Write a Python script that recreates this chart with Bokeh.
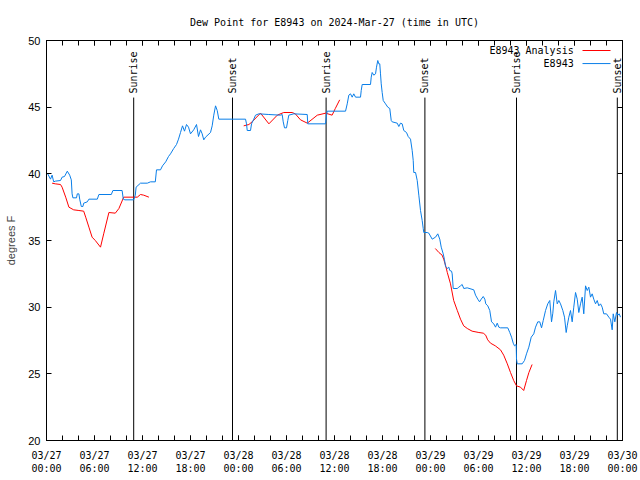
import math
from bokeh.plotting import figure
from bokeh.models import Range1d, FixedTicker, LinearAxis, Label, ColumnDataSource
from bokeh.core.properties import value
from bokeh.embed import file_html
from bokeh.resources import INLINE

NAN = float("nan")

# ---- data (hours since 2024-03-27 00:00 UTC, dew point in degrees F) ----
obs_hours = [
    0.15, 0.5, 0.7, 0.9, 1.1, 1.75, 1.95, 2.25, 2.6, 2.9,
    3.1, 3.2, 3.3, 3.75, 3.85, 4.05, 4.15, 4.35, 4.55, 4.65,
    5.1, 5.3, 6.35, 6.55, 8.1, 8.3, 9.45, 9.6, 9.8, 10.9,
    11.1, 11.2, 11.75, 12.6, 13.0, 13.6, 13.75, 14.25,
    14.5, 14.9, 15.25, 15.5, 15.9, 16.25, 16.5, 16.75, 17.0, 17.25,
    17.5, 17.75, 18.0, 18.4, 18.75, 19.0,
    19.25, 19.46, 19.66, 19.88, 20.5, 20.71, 20.91, 21.13, 21.34, 21.54,
    24.88, 25.0, 25.09, 25.5, 25.63, 25.91, 26.13, 26.54, 27.79, 29.25,
    29.46, 29.59, 29.75, 30.0, 30.16, 30.29, 30.91, 32.59, 32.66, 34.88,
    35.0, 35.09, 37.38, 37.59, 37.79, 38.0, 38.21, 38.41, 38.63, 39.25,
    39.34, 39.46, 40.5, 40.59, 40.71, 40.91, 41.13, 41.25, 41.41, 41.54,
    41.66, 41.75, 41.84, 41.96, 42.09, 42.38, 42.66, 42.91, 43.09, 43.21,
    43.84, 44.04, 44.25, 44.46, 44.66, 45.0, 45.21, 45.5, 45.71, 45.84,
    45.91, 46.13, 46.34, 46.54, 46.75, 46.96, 47.09, 47.16, 47.59, 47.79,
    48.21, 48.63, 48.91, 49.16, 49.34, 49.59, 49.75, 49.88, 50.09, 50.29,
    50.41, 50.63, 50.71, 50.84, 51.34, 51.54, 51.75, 51.96, 52.16, 52.59,
    53.41, 53.63, 53.91, 54.13, 54.34, 54.59, 54.79, 54.91, 55.16, 55.41,
    55.63, 55.91, 56.13, 56.34, 56.54, 56.75, 57.66, 57.91, 58.13, 58.34,
    58.5, 58.71, 58.75, 58.84, 59.46, 59.75, 60.0, 60.29, 60.59, 60.91,
    61.13, 61.41, 61.66, 61.88, 62.09, 62.38, 62.66, 62.91, 63.13, 63.29,
    63.41, 63.63, 63.84, 64.04, 64.25, 64.54, 64.75, 64.96, 65.09, 65.29,
    65.5, 65.71, 65.91, 66.13, 66.34, 66.54, 66.75, 66.96, 67.16, 67.38,
    67.59, 67.79, 68.0, 68.21, 68.41, 68.63, 68.84, 69.04, 69.25, 69.46,
    69.66, 70.0, 70.29, 70.5, 70.71, 70.84, 71.04, 71.25, 71.41, 71.59, 71.75,
]
obs_dewpt = [
    40.0, 39.6, 39.9, 39.4, 39.45, 39.5, 39.75, 39.8, 40.2, 39.9,
    39.55, 38.5, 38.2, 38.2, 38.5, 38.5, 38.1, 37.55, 37.55, 37.8,
    37.9, 38.1, 38.1, 38.45, 38.45, 38.75, 38.75, 38.1, 38.05, 38.05,
    38.4, 39.0, 39.3, 39.3, 39.4, 39.4, 40.3, 40.3,
    40.6, 40.9, 41.3, 41.5, 41.9, 42.2, 42.6, 43.1, 43.6, 43.2,
    43.7, 43.5, 43.0, 43.3, 43.7, 42.8,
    43.3, 43.0, 42.55, 42.75, 43.1, 43.6, 44.4, 45.1, 44.75, 44.1,
    44.1, 43.75, 43.25, 43.25, 43.75, 44.1, 44.4, 44.5, 44.45, 44.4,
    44.45, 43.9, 43.45, 43.45, 44.0, 44.4, 44.5, 44.45, 43.75, 43.75,
    44.4, 44.7, 44.7, 45.25, 45.9, 46.0, 45.75, 46.0, 45.75, 45.75,
    46.25, 46.7, 46.7, 47.25, 47.6, 47.4, 47.5, 48.0, 48.5, 48.25,
    48.25, 47.5, 46.75, 46.1, 45.5, 45.25, 45.0, 44.9, 44.0, 43.9,
    43.8, 43.55, 43.8, 43.75, 43.25, 43.1, 42.8, 42.6, 41.75, 41.0,
    40.1, 40.1, 39.5, 38.4, 37.25, 36.5, 35.9, 35.6, 35.6, 35.55,
    35.1, 35.25, 35.5, 35.1, 34.5, 34.0, 33.55, 33.05, 32.9, 33.0,
    32.75, 32.7, 32.5, 31.4, 31.4, 31.5, 31.6, 31.7, 31.4, 31.45,
    31.3, 30.9, 30.6, 30.4, 30.6, 30.8, 30.6, 30.25, 30.1, 29.75,
    28.9, 28.75, 28.5, 28.8, 28.5, 28.45, 28.45, 28.1, 27.75, 27.3,
    27.1, 27.2, 26.1, 25.75, 25.75, 26.0, 26.5, 27.0, 27.75, 28.0,
    28.5, 28.9, 28.9, 28.45, 29.0, 29.75, 30.25, 30.5, 28.9, 29.55,
    30.4, 31.25, 30.25, 30.5, 30.25, 29.75, 29.25, 28.1, 28.6, 29.25,
    29.75, 28.9, 30.0, 31.1, 30.6, 29.6, 30.25, 30.75, 29.5, 31.6,
    31.25, 31.5, 30.75, 31.0, 30.6, 30.25, 30.5, 30.1, 30.25, 30.0,
    29.5, 29.5, 29.25, 29.1, 28.3, 29.5, 28.9, 29.6, 29.4, 29.5, 29.25,
]

ana_hours = [
    0.7, 1.1, 1.75, 1.95, 2.4, 2.8, 3.4, 4.05, 4.65, 4.9,
    5.3, 5.7, 6.1, 6.75, 7.15, 7.8, 8.6, 9.05, 9.65, 11.35,
    11.75, 12.15, 12.8, NAN,
    24.65, 25.3, 25.7, 26.75, 27.8, 28.85, 29.65, 30.7, 31.1, 31.75,
    32.6, 33.85, 34.9, 35.7, 36.1, 36.65, NAN,
    48.6, 49.05, 49.45, 49.65, 49.9, 50.1, 50.5, 50.9, 51.35, 51.75,
    52.15, 52.6, 53.2, 54.05, 54.6, 54.9, 55.15, 55.5, 56.1, 56.75,
    57.15, 57.6, 58.0, 58.4, 58.75, 59.25, 59.65, 60.0, 60.3, 60.7,
]
ana_dewpt = [
    39.3, 39.25, 39.2, 39.0, 38.25, 37.5, 37.3, 37.25, 37.2, 36.75,
    36.0, 35.25, 35.0, 34.5, 35.5, 37.1, 37.05, 37.4, 38.25, 38.25,
    38.45, 38.4, 38.25, NAN,
    43.6, 43.7, 43.9, 44.55, 43.75, 44.4, 44.6, 44.6, 44.5, 44.05,
    43.8, 44.4, 44.55, 44.4, 44.9, 45.55, NAN,
    34.4, 34.1, 33.9, 33.6, 33.1, 32.6, 31.75, 30.5, 29.75, 29.1,
    28.6, 28.4, 28.2, 28.1, 28.05, 27.9, 27.55, 27.3, 27.1, 26.8,
    26.4, 25.75, 25.1, 24.5, 24.1, 24.0, 23.75, 24.5, 25.1, 25.7,
]

sun_hours = [10.9, 23.25, 34.95, 47.3, 58.75, 71.35]
sun_labels = ["Sunrise", "Sunset", "Sunrise", "Sunset", "Sunrise", "Sunset"]

x_tick_hours = [0, 6, 12, 18, 24, 30, 36, 42, 48, 54, 60, 66, 72]
x_tick_labels = ["03/27\n00:00", "03/27\n06:00", "03/27\n12:00", "03/27\n18:00",
                 "03/28\n00:00", "03/28\n06:00", "03/28\n12:00", "03/28\n18:00",
                 "03/29\n00:00", "03/29\n06:00", "03/29\n12:00", "03/29\n18:00",
                 "03/30\n00:00"]
x_minor_hours = list(range(0, 73, 2))
y_ticks = [20, 25, 30, 35, 40, 45, 50]

series_names = ["E8943 Analysis", "E8943"]
series_colors = ["#ff0000", "#0a7ee8"]

MONO = "DejaVu Sans Mono"
SANS = "Liberation Sans"

p = figure(width=640, height=480,
           x_range=Range1d(0, 72), y_range=Range1d(20, 50),
           output_backend="svg", toolbar_location=None,
           min_border_left=46, min_border_right=18,
           min_border_top=40, min_border_bottom=40,
           title="Dew Point for E8943 on 2024-Mar-27 (time in UTC)")

p.title.text_font = MONO
p.title.text_font_size = "10px"
p.title.text_font_style = "normal"
p.title.align = "center"
p.title.text_color = "black"
p.title.standoff = 26

p.xgrid.visible = False
p.ygrid.visible = False
p.outline_line_color = "black"
p.outline_line_alpha = 1.0
p.outline_line_width = 1
p.background_fill_color = "white"
p.border_fill_color = "white"

xt = FixedTicker(ticks=x_tick_hours, minor_ticks=x_minor_hours)
yt = FixedTicker(ticks=y_ticks, minor_ticks=[])

xa = p.xaxis[0]
xa.ticker = xt
xa.major_label_overrides = {h: lab for h, lab in zip(x_tick_hours, x_tick_labels)}
xa.major_label_text_font = MONO
xa.major_label_text_font_size = "10px"
xa.major_label_standoff = 9

ya = p.yaxis[0]
ya.ticker = yt
ya.axis_label = "degrees F"
ya.axis_label_text_font = SANS
ya.axis_label_text_font_size = "11px"
ya.axis_label_text_font_style = "normal"
ya.axis_label_standoff = 8
ya.major_label_text_font = SANS
ya.major_label_text_font_size = "11px"
ya.major_label_standoff = 6

# mirrored tick marks on the right and top (no labels)
ra = LinearAxis(ticker=yt, major_label_standoff=0,
                major_label_overrides={t: "" for t in y_ticks})
ta = LinearAxis(ticker=xt, major_label_standoff=0,
                major_label_overrides={t: "" for t in x_tick_hours})
p.add_layout(ra, "right")
p.add_layout(ta, "above")

for ax in [xa, ya, ra, ta]:
    ax.major_tick_in = 5
    ax.major_tick_out = 0
    ax.minor_tick_in = 5
    ax.minor_tick_out = 0
    ax.axis_line_color = "black"
    ax.major_tick_line_color = "black"
    ax.minor_tick_line_color = "black"
    ax.major_label_text_color = "black"

# sunrise / sunset markers
sun_src = ColumnDataSource(dict(x=sun_hours, y0=[20] * len(sun_hours),
                                y1=[45.72] * len(sun_hours),
                                ty=[46.02] * len(sun_hours), label=sun_labels))
p.segment(x0="x", y0="y0", x1="x", y1="y1", source=sun_src,
          line_color="black", line_width=1)
p.text(x="x", y="ty", text="label", source=sun_src, angle=math.pi / 2,
       text_align="left", text_baseline="middle",
       text_font=value(MONO), text_font_size="10px", text_color="black")

# data series
p.line(ana_hours, ana_dewpt, line_color=series_colors[0], line_width=1)
p.line(obs_hours, obs_dewpt, line_color=series_colors[1], line_width=1)

# gnuplot-style key (label right-aligned, sample line to its right)
key_y = [49.25, 48.27]
for name, col, ky in zip(series_names, series_colors, key_y):
    p.add_layout(Label(x=65.9, y=ky, text=name, text_align="right",
                       text_baseline="middle", text_font=MONO,
                       text_font_size="10px", text_color="black"))
    p.segment(x0=[67.0], y0=[ky], x1=[70.5], y1=[ky], line_color=col, line_width=1)

open("out.html", "w").write(file_html(p, INLINE))
